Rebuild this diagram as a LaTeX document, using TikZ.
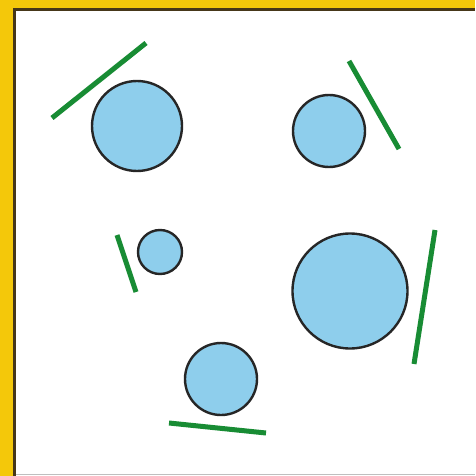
\documentclass[tikz,border=0pt]{standalone}
\usepackage{tikz}

\definecolor{frameyellow}{RGB}{244,200,10}
\definecolor{framedark}{RGB}{70,55,25}
\definecolor{ballblue}{RGB}{142,206,236}
\definecolor{mirrorgreen}{RGB}{24,140,52}

\begin{document}
\begin{tikzpicture}[x=1pt, y=-1pt,
	ball/.style={circle, draw=black!85, line width=2.4pt, fill=ballblue, inner sep=0pt},
	mirror/.style={draw=mirrorgreen, line width=5pt}]
	\useasboundingbox (0,0) rectangle (475,476);
	\fill[white] (0,0) rectangle (475,476);
	% frame on left and top
	\fill[frameyellow] (0,0) rectangle (475,8);
	\fill[frameyellow] (0,0) rectangle (13,476);
	\draw[framedark, line width=3pt] (14.5,476) -- (14.5,9.5) -- (475,9.5);
	\draw[black!25, line width=1pt] (16,474.5) -- (475,474.5);
	% balls
	\node[ball, minimum size=90pt] (b1) at (137,126) {};
	\node[ball, minimum size=72pt] (b2) at (329,131) {};
	\node[ball, minimum size=44pt] (b3) at (160,252) {};
	\node[ball, minimum size=115pt] (b4) at (350,291) {};
	\node[ball, minimum size=72pt] (b5) at (221,379) {};
	% green strips
	\draw[mirror] (52,118) -- (146,43);
	\draw[mirror] (349,61) -- (399,149);
	\draw[mirror] (117,235) -- (136,292);
	\draw[mirror] (435,230) -- (414,364);
	\draw[mirror] (169,423) -- (266,433);
\end{tikzpicture}
\end{document}
